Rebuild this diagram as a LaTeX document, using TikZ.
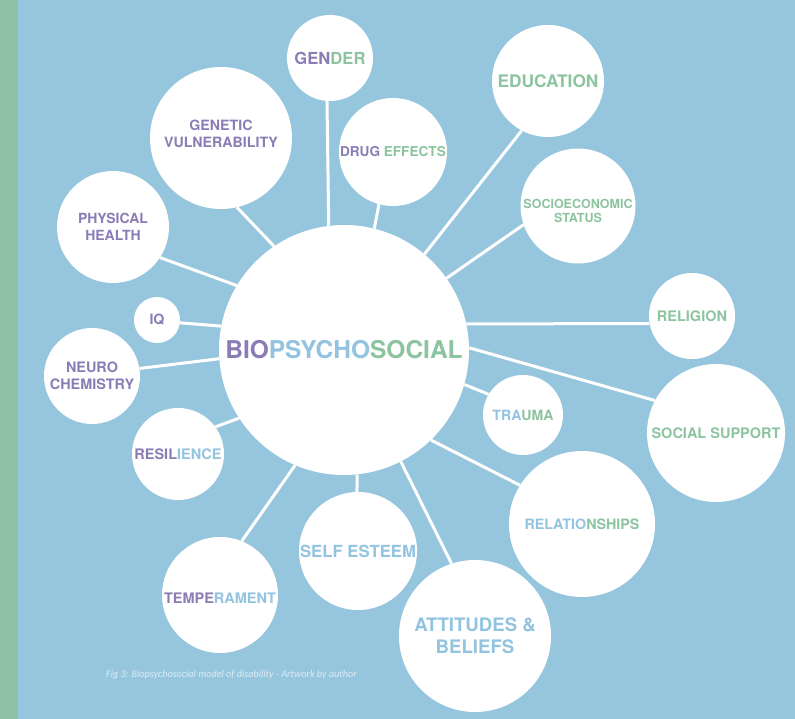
\documentclass[tikz,border=0pt]{standalone}
\usepackage{fontspec}
\setmainfont{TeX Gyre Heros}
\newfontfamily\capfont{Carlito}
\definecolor{bgblue}{HTML}{96C6DE}
\definecolor{stripgreen}{HTML}{8FC1A4}
\definecolor{purp}{HTML}{8A7DB6}
\definecolor{grn}{HTML}{8CC49F}
\definecolor{lblu}{HTML}{92C4E0}
\definecolor{captxt}{HTML}{DDEDF5}
\newcommand\fsz[2]{\fontsize{#1bp}{#2bp}\selectfont}
\newcommand\cP[1]{\textcolor{purp}{#1}}
\newcommand\cG[1]{\textcolor{grn}{#1}}
\newcommand\cB[1]{\textcolor{lblu}{#1}}
\begin{document}
\begin{tikzpicture}[x=1bp,y=-1bp,
  bub/.style={circle,fill=white,inner sep=0pt,align=center},
  link/.style={draw=white,line width=3bp}]
\useasboundingbox (0,0) rectangle (795,719);
\fill[bgblue] (0,0) rectangle (795,719);
\fill[stripgreen] (0,0) rectangle (18,719);

% central
\node[bub,minimum size=250bp,font=\bfseries\fsz{24.5}{28}] (main) at (344,350) {\cP{BIO}\cB{PSYCHO}\cG{SOCIAL}};

% outer bubbles
\node[bub,minimum size=86bp,font=\bfseries\fsz{16.6}{20}] (gender) at (330,58) {\cP{GEN}\cG{DER}};
\node[bub,minimum size=142bp,label={[inner sep=0pt,align=center,yshift=4bp,font=\bfseries\fsz{14.2}{17}]center:{\cP{GENETIC}\\\cP{VULNERABILITY}}}] (genetic) at (221,138) {};
\node[bub,minimum size=112bp,font=\bfseries\fsz{14.0}{17}] (physical) at (113,227) {\cP{PHYSICAL}\\\cP{HEALTH}};
\node[bub,minimum size=108bp,font=\bfseries\fsz{13.6}{16}] (drug) at (393,152) {\cP{DRUG} \cG{EFFECTS}};
\node[bub,minimum size=112bp,font=\bfseries\fsz{17.3}{20}] (education) at (548,81) {\cG{EDUCATION}};
\node[bub,minimum size=115bp,label={[inner sep=0pt,align=center,yshift=-5bp,font=\bfseries\fsz{12.5}{14.5}]center:{\cG{SOCIOECONOMIC}\\\cG{STATUS}}}] (socio) at (578,206) {};
\node[bub,minimum size=86bp,font=\bfseries\fsz{14.5}{17}] (religion) at (692,316) {\cG{RELIGION}};
\node[bub,minimum size=138bp,font=\bfseries\fsz{14.5}{17}] (social) at (716,433) {\cG{SOCIAL SUPPORT}};
\node[bub,minimum size=80bp,font=\bfseries\fsz{14.1}{17}] (trauma) at (523,415) {\cB{TRA}\cG{UMA}};
\node[bub,minimum size=146bp,font=\bfseries\fsz{14.3}{17}] (relationships) at (582,524) {\cB{RELATIO}\cG{NSHIPS}};
\node[bub,minimum size=152bp,font=\bfseries\fsz{18.6}{22}] (attitudes) at (475,636) {\cB{ATTITUDES \&}\\\cB{BELIEFS}};
\node[bub,minimum size=118bp,font=\bfseries\fsz{16.7}{20}] (selfesteem) at (358,551) {\cB{SELF ESTEEM}};
\node[bub,minimum size=116bp,label={[inner sep=0pt,yshift=-3bp,font=\bfseries\fsz{14.5}{17}]center:{\cP{TEMPE}\cB{RAMENT}}}] (temperament) at (220,595) {};
\node[bub,minimum size=92bp,font=\bfseries\fsz{14.5}{17}] (resilience) at (178,454) {\cP{RESIL}\cB{IENCE}};
\node[bub,minimum size=96bp,font=\bfseries\fsz{14.4}{17}] (neuro) at (92,376) {\cP{NEURO}\\\cP{CHEMISTRY}};
\node[bub,minimum size=46bp,font=\bfseries\fsz{14.2}{17}] (iq) at (157,320) {\cP{IQ}};

% connectors
\draw[link] (main.97) -- (gender.-94);
\draw[link] (main.124.6) -- (genetic.-77);
\draw[link] (main.149) -- (physical.-33.4);
\draw[link] (main.76.6) -- (drug.-105);
\draw[link] (main.50.4) -- (education.-118.4);
\draw[link] (main.35) -- (socio.-161.6);
\draw[link] (main.12.6) -- (religion.-170.8);
\draw[link] (main.1.4) -- (social.152);
\draw[link] (main.-16.4) -- (trauma.149.5);
\draw[link] (main.-46) -- (relationships.148);
\draw[link] (main.-63) -- (attitudes.108.4);
\draw[link] (main.-84) -- (selfesteem.91);
\draw[link] (main.-113.5) -- (temperament.68.2);
\draw[link] (main.-147.7) -- (resilience.36);
\draw[link] (main.-176.7) -- (neuro.9.3);
\draw[link] (main.169.8) -- (iq.-7.4);

% caption
\node[inner sep=0pt,text=captxt,font=\capfont\itshape\fsz{10.15}{12}] (caption) at (231.5,675) {Fig 3: Biopsychosocial model of disability - Artwork by author};
\end{tikzpicture}
\end{document}
